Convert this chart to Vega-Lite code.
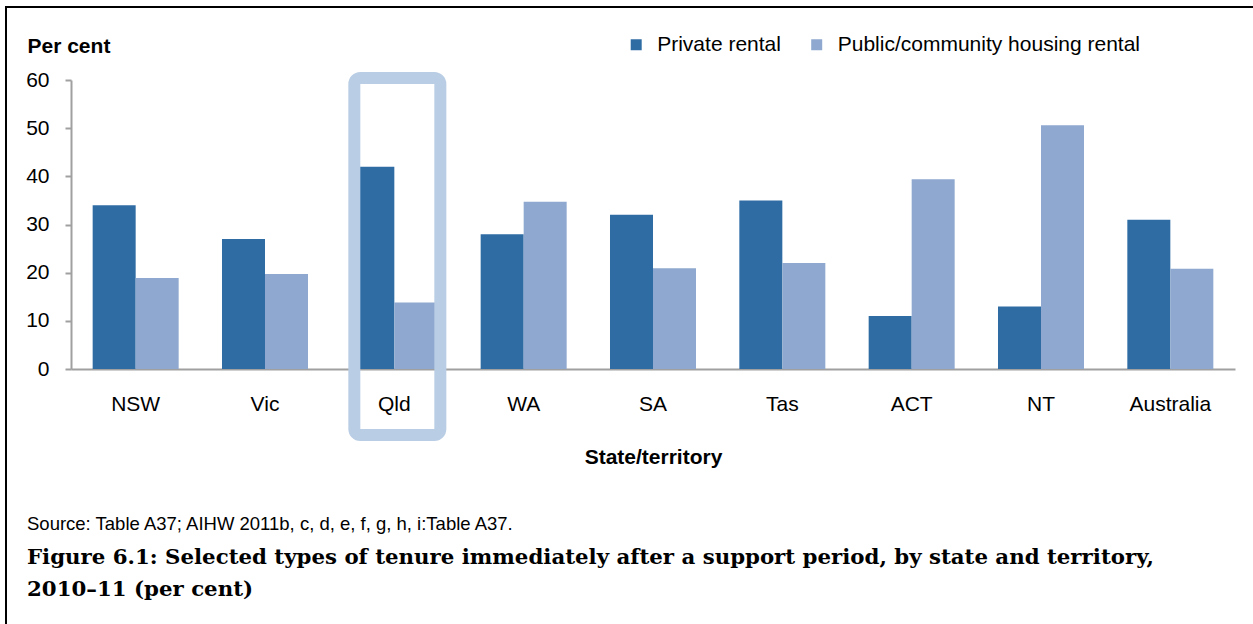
{
  "$schema": "https://vega.github.io/schema/vega-lite/v6.json",
  "width": 1300,
  "height": 700,
  "autosize": {"type": "none"},
  "padding": {"left": 6, "top": 7, "right": -53, "bottom": -83},
  "background": "white",
  "config": {
    "view": {"stroke": "black", "strokeWidth": 2},
    "font": "Liberation Sans"
  },
  "title": {
    "text": "Source: Table A37; AIHW 2011b, c, d, e, f, g, h, i:Table A37.",
    "subtitle": ["Figure 6.1: Selected types of tenure immediately after a support period, by state and territory,", "2010–11 (per cent)"],
    "orient": "top",
    "anchor": "start",
    "frame": "group",
    "offset": -593,
    "dx": 21,
    "font": "Liberation Sans",
    "fontSize": 18.5,
    "fontWeight": "normal",
    "color": "black",
    "subtitleFont": "DejaVu Serif",
    "subtitleFontSize": 21.3,
    "subtitleFontWeight": "bold",
    "subtitleColor": "black",
    "subtitleLineHeight": 32,
    "subtitlePadding": 13,
    "limit": 0
  },
  "data": {
    "values": [
      {"State": "NSW", "Tenure": "Private rental", "Percent": 34},
      {"State": "NSW", "Tenure": "Public/community housing rental", "Percent": 18.9},
      {"State": "Vic", "Tenure": "Private rental", "Percent": 27},
      {"State": "Vic", "Tenure": "Public/community housing rental", "Percent": 19.7},
      {"State": "Qld", "Tenure": "Private rental", "Percent": 42},
      {"State": "Qld", "Tenure": "Public/community housing rental", "Percent": 13.8},
      {"State": "WA", "Tenure": "Private rental", "Percent": 28},
      {"State": "WA", "Tenure": "Public/community housing rental", "Percent": 34.7},
      {"State": "SA", "Tenure": "Private rental", "Percent": 32},
      {"State": "SA", "Tenure": "Public/community housing rental", "Percent": 20.9},
      {"State": "Tas", "Tenure": "Private rental", "Percent": 35},
      {"State": "Tas", "Tenure": "Public/community housing rental", "Percent": 22},
      {"State": "ACT", "Tenure": "Private rental", "Percent": 11},
      {"State": "ACT", "Tenure": "Public/community housing rental", "Percent": 39.4},
      {"State": "NT", "Tenure": "Private rental", "Percent": 13},
      {"State": "NT", "Tenure": "Public/community housing rental", "Percent": 50.6},
      {"State": "Australia", "Tenure": "Private rental", "Percent": 31},
      {"State": "Australia", "Tenure": "Public/community housing rental", "Percent": 20.8}
    ]
  },
  "layer": [
    {
      "mark": {"type": "bar"},
      "encoding": {
        "x": {
          "field": "State",
          "type": "nominal",
          "sort": ["NSW", "Vic", "Qld", "WA", "SA", "Tas", "ACT", "NT", "Australia"],
          "scale": {"range": [65, 1229], "paddingInner": 0.335, "paddingOuter": 0.1675},
          "axis": {
            "title": "State/territory",
            "orient": "bottom",
            "offset": -338,
            "ticks": false,
            "tickSize": 0,
            "labelAngle": 0,
            "labelFontSize": 21,
            "labelColor": "black",
            "labelBaseline": "alphabetic",
            "labelPadding": 41,
            "domainColor": "#a0a0a0",
            "domainWidth": 2,
            "titleFontSize": 21,
            "titleFontWeight": "bold",
            "titleColor": "black",
            "titleY": 94,
            "titleBaseline": "alphabetic",
            "grid": false
          }
        },
        "xOffset": {
          "field": "Tenure",
          "type": "nominal",
          "sort": ["Private rental", "Public/community housing rental"],
          "scale": {"paddingInner": 0, "paddingOuter": 0}
        },
        "y": {
          "field": "Percent",
          "type": "quantitative",
          "scale": {"domain": [0, 60], "range": [362, 73], "nice": false},
          "axis": {
            "title": "Per cent",
            "orient": "left",
            "offset": -65,
            "values": [0, 10, 20, 30, 40, 50, 60],
            "tickSize": 6,
            "tickWidth": 2,
            "tickColor": "#a0a0a0",
            "domainColor": "#a0a0a0",
            "domainWidth": 2,
            "labelFontSize": 21,
            "labelColor": "black",
            "labelPadding": 16,
            "titleAngle": 0,
            "titleAlign": "left",
            "titleX": -44,
            "titleY": 45.5,
            "titleBaseline": "alphabetic",
            "titleFontSize": 21,
            "titleFontWeight": "bold",
            "titleColor": "black",
            "grid": false
          }
        },
        "color": {
          "field": "Tenure",
          "type": "nominal",
          "scale": {"domain": ["Private rental", "Public/community housing rental"], "range": ["#2f6ca4", "#8ea8cf"]},
          "legend": {
            "orient": "none",
            "legendX": 619.7,
            "legendY": 27,
            "direction": "horizontal",
            "title": null,
            "symbolType": "square",
            "symbolSize": 121,
            "symbolStrokeWidth": 0,
            "labelFontSize": 21,
            "labelColor": "black",
            "labelOffset": 10.5,
            "columnPadding": 24.5,
            "padding": 0,
            "labelLimit": 400
          }
        }
      }
    },
    {
      "data": {"values": [{}]},
      "mark": {"type": "rect", "filled": false, "stroke": "#b9cde5", "strokeWidth": 12, "cornerRadius": 6, "clip": false, "xOffset": 3},
      "encoding": {
        "x": {"datum": "Qld", "type": "nominal"},
        "y": {"datum": 60.4},
        "y2": {"datum": -13.7}
      }
    }
  ]
}
